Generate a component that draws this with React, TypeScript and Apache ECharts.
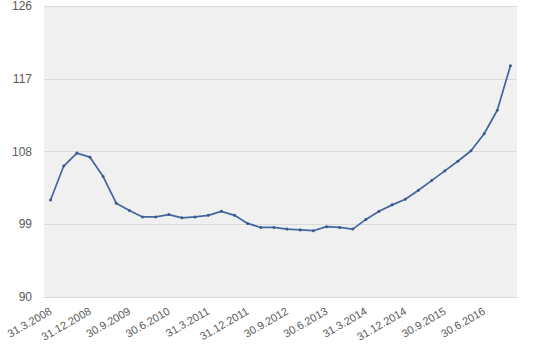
import React, { useEffect, useRef } from "react";
import * as echarts from "echarts";

const categories = [
  "31.3.2008", "30.6.2008", "30.9.2008", "31.12.2008",
  "31.3.2009", "30.6.2009", "30.9.2009", "31.12.2009",
  "31.3.2010", "30.6.2010", "30.9.2010", "31.12.2010",
  "31.3.2011", "30.6.2011", "30.9.2011", "31.12.2011",
  "31.3.2012", "30.6.2012", "30.9.2012", "31.12.2012",
  "31.3.2013", "30.6.2013", "30.9.2013", "31.12.2013",
  "31.3.2014", "30.6.2014", "30.9.2014", "31.12.2014",
  "31.3.2015", "30.6.2015", "30.9.2015", "31.12.2015",
  "31.3.2016", "30.6.2016", "30.9.2016", "31.12.2016",
];

const values = [
  102.0, 106.2, 107.8, 107.3,
  104.9, 101.6, 100.7, 99.9,
  99.9, 100.2, 99.8, 99.9,
  100.1, 100.6, 100.1, 99.1,
  98.6, 98.6, 98.4, 98.3,
  98.2, 98.7, 98.6, 98.4,
  99.6, 100.6, 101.4, 102.1,
  103.2, 104.4, 105.6, 106.8,
  108.1, 110.2, 113.1, 118.6,
];

const yMin = 90;
const yMax = 126;
const yStep = 9;

export default function App() {
  const ref = useRef<HTMLDivElement>(null);
  useEffect(() => {
    if (!ref.current) return;
    const chart = echarts.init(ref.current, undefined, { renderer: "svg" });
    chart.setOption({
      animation: false,
      backgroundColor: "#ffffff",
      grid: {
        left: 44,
        right: 43,
        top: 6,
        bottom: 59,
        show: true,
        backgroundColor: "#f0f0f0",
        borderWidth: 0,
      },
      xAxis: {
        type: "category",
        data: categories,
        boundaryGap: true,
        axisLine: { show: true, lineStyle: { color: "#d9d9d9", width: 1 } },
        axisTick: { show: false },
        axisLabel: {
          interval: 2,
          rotate: 30,
          color: "#595959",
          fontSize: 11,
          fontFamily: "Liberation Sans, Arial, sans-serif",
          margin: 13,
        },
        splitLine: { show: false },
      },
      yAxis: {
        type: "value",
        min: yMin,
        max: yMax,
        interval: yStep,
        axisLine: { show: false },
        axisTick: { show: false },
        axisLabel: {
          color: "#595959",
          fontSize: 12,
          fontFamily: "Liberation Sans, Arial, sans-serif",
          margin: 12,
        },
        splitLine: { show: true, lineStyle: { color: "#d9d9d9", width: 1 } },
      },
      series: [
        {
          type: "line",
          data: values,
          symbol: "circle",
          symbolSize: 3,
          showSymbol: true,
          lineStyle: { color: "#44679f", width: 1.75 },
          itemStyle: { color: "#3c5a8f" },
        },
      ],
    });
    return () => chart.dispose();
  }, []);
  return (
    <div
      ref={ref}
      style={{ position: "fixed", left: 0, top: 0, width: 560, height: 356 }}
    />
  );
}
